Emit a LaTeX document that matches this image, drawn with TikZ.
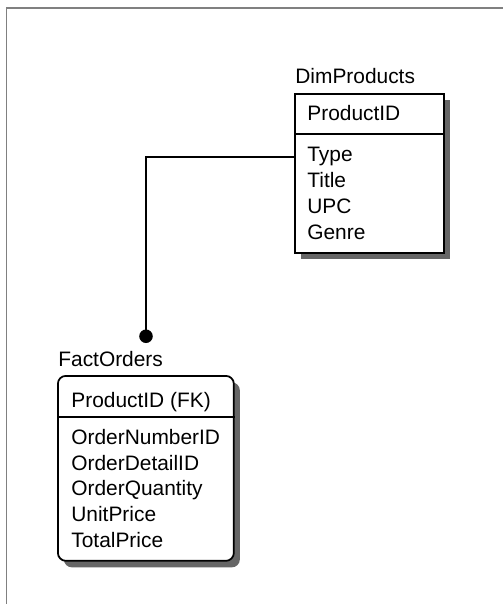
\documentclass[tikz,border=0pt]{standalone}
\usepackage{fontspec}
\setmainfont{Liberation Sans}
\usetikzlibrary{arrows.meta,shadows}

\tikzset{
  entity/.style={draw, line width=0.035cm, fill=white, inner sep=0pt,
    drop shadow={shadow xshift=0.12cm, shadow yshift=-0.13cm, fill=black!60, opacity=1}},
  field/.style={anchor=base west, inner sep=0pt, font=\fontsize{11.9}{14.6}\selectfont},
  conn/.style={line width=0.035cm},
  frame/.style={line width=0.04cm, black!50}
}

\begin{document}
\begin{tikzpicture}[x=0.02cm, y=-0.02cm]
  \useasboundingbox (0,0) rectangle (503,604);
  \draw[frame] (6.5,604) -- (6.5,8) -- (503,8);

  % dimension table
  \node[field] (dimname) at (295,84) {DimProducts};
  \node[entity, minimum width=2.98cm, minimum height=3.18cm, anchor=north west] (dim) at (294,93) {};
  \draw[conn] ([yshift=-0.82cm]dim.north west) -- ([yshift=-0.82cm]dim.north east);
  \node[field] (pid) at (307,121) {ProductID};
  \node[field] (type) at (307,162) {Type};
  \node[field] (title) at (307,187.7) {Title};
  \node[field] (upc) at (307,213.4) {UPC};
  \node[field] (genre) at (307,239) {Genre};

  % fact table
  \node[field] (factname) at (58,366.5) {FactOrders};
  \node[entity, rounded corners=0.16cm, minimum width=3.52cm, minimum height=3.7cm, anchor=north west] (fact) at (57,375) {};
  \draw[conn] ([yshift=-0.84cm]fact.north west) -- ([yshift=-0.84cm]fact.north east);
  \node[field] (fpid) at (71,407) {ProductID (FK)};
  \node[field] (onum) at (71,444) {OrderNumberID};
  \node[field] (odet) at (71,470) {OrderDetailID};
  \node[field] (oqty) at (71,495.5) {OrderQuantity};
  \node[field] (uprice) at (71,521.5) {UnitPrice};
  \node[field] (tprice) at (71,547) {TotalPrice};

  % relationship
  \coordinate (dotend) at (146,343);
  \draw[conn, -{Circle[length=0.27cm]}] (dim.west |- type.west) -| (dotend);
\end{tikzpicture}
\end{document}
